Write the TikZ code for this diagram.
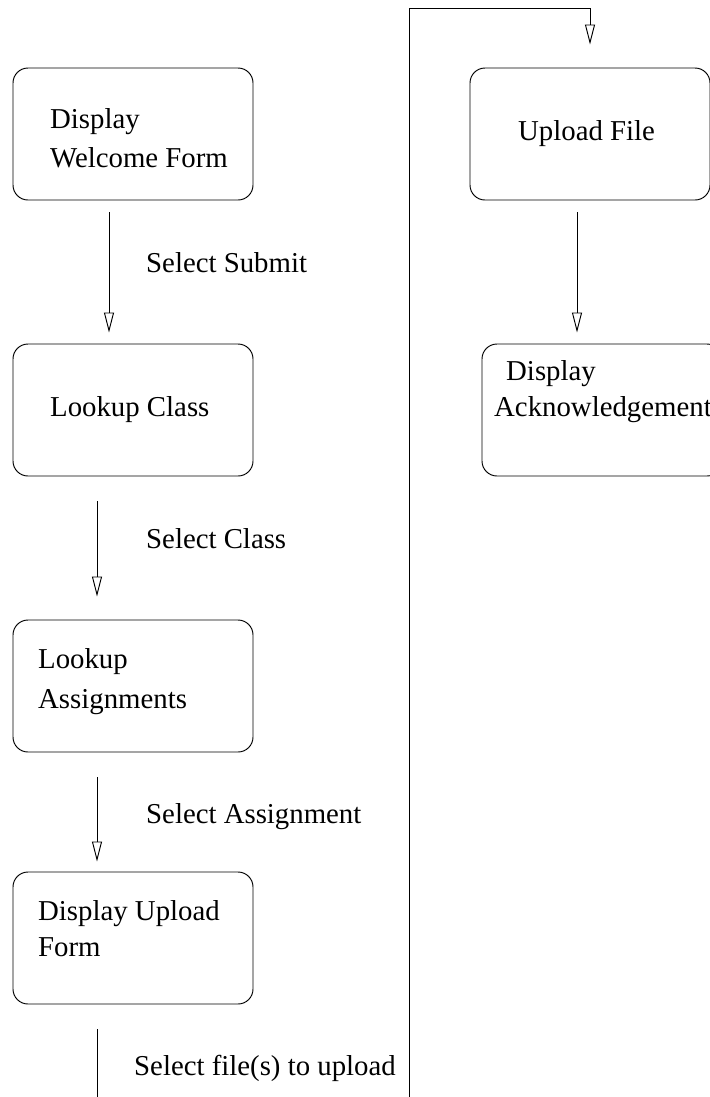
\documentclass[tikz,border=0pt]{standalone}
\usepackage{fontspec}
\setmainfont{Liberation Serif}
\usetikzlibrary{arrows.meta}
\begin{document}
\begin{tikzpicture}[x=1bp,y=-1bp,
  stepbox/.style={draw, rounded corners=15bp, minimum width=240bp, minimum height=132bp, inner sep=0pt, line width=0.95bp},
  txt/.style={anchor=base west, inner sep=0pt, font=\fontsize{28.8bp}{38bp}\selectfont},
  flow/.style={draw, line width=0.95bp, -{Triangle[open, length=20bp, width=10bp, fill=white]}}
]
\useasboundingbox (0,0) rectangle (710,1097);
\clip (0,0) rectangle (710,1097);

% left column of states
\node[stepbox] (welcome) at (133,134) {};
\node[stepbox] (lclass)  at (133,410) {};
\node[stepbox] (lassign) at (133,686) {};
\node[stepbox] (dupload) at (133,938) {};
% right column of states
\node[stepbox] (upfile)  at (590,134) {};
\node[stepbox] (ack)     at (602,410) {};

% state texts
\node[txt] (t1a) at (50,128) {Display};
\node[txt] (t1b) at (50,167) {Welcome Form};
\node[txt] (t2)  at (50,416) {Lookup Class};
\node[txt] (t3a) at (38,668) {Lookup};
\node[txt] (t3b) at (38,708) {Assignments};
\node[txt] (t4a) at (38,920) {Display Upload};
\node[txt] (t4b) at (38,956) {Form};
\node[txt] (t5)  at (518,140) {Upload File};
\node[txt] (t6a) at (506,380) {Display};
\node[txt] (t6b) at (494,416) {Acknowledgement};

% transitions
\draw[flow, shorten <=12bp, shorten >=11bp] ([xshift=-24bp]welcome.south) -- ([xshift=-24bp]welcome.south |- lclass.north);
\draw[flow, shorten <=25bp, shorten >=23bp] ([xshift=-36bp]lclass.south) -- ([xshift=-36bp]lclass.south |- lassign.north);
\draw[flow, shorten <=25bp, shorten >=10bp] ([xshift=-36bp]lassign.south) -- ([xshift=-36bp]lassign.south |- dupload.north);
\draw[flow, shorten <=12bp, shorten >=11bp] ([xshift=-13bp]upfile.south) -- ([xshift=-13bp]upfile.south |- ack.north);

\coordinate (loopbot) at (409,1140);
\coordinate (looptop) at (409,8);
\draw[flow, shorten <=25bp, shorten >=23bp] ([xshift=-36bp]dupload.south) -- ([xshift=-36bp]dupload.south |- loopbot) -- (loopbot) -- (looptop) -- (looptop -| upfile.north) -- (upfile.north);

% transition labels
\node[txt] (l1) at (146,272) {Select Submit};
\node[txt] (l2) at (146,548) {Select Class};
\node[txt] (l3) at (146,823) {Select Assignment};
\node[txt] (l4) at (134,1075) {Select file(s) to upload};
\end{tikzpicture}
\end{document}
